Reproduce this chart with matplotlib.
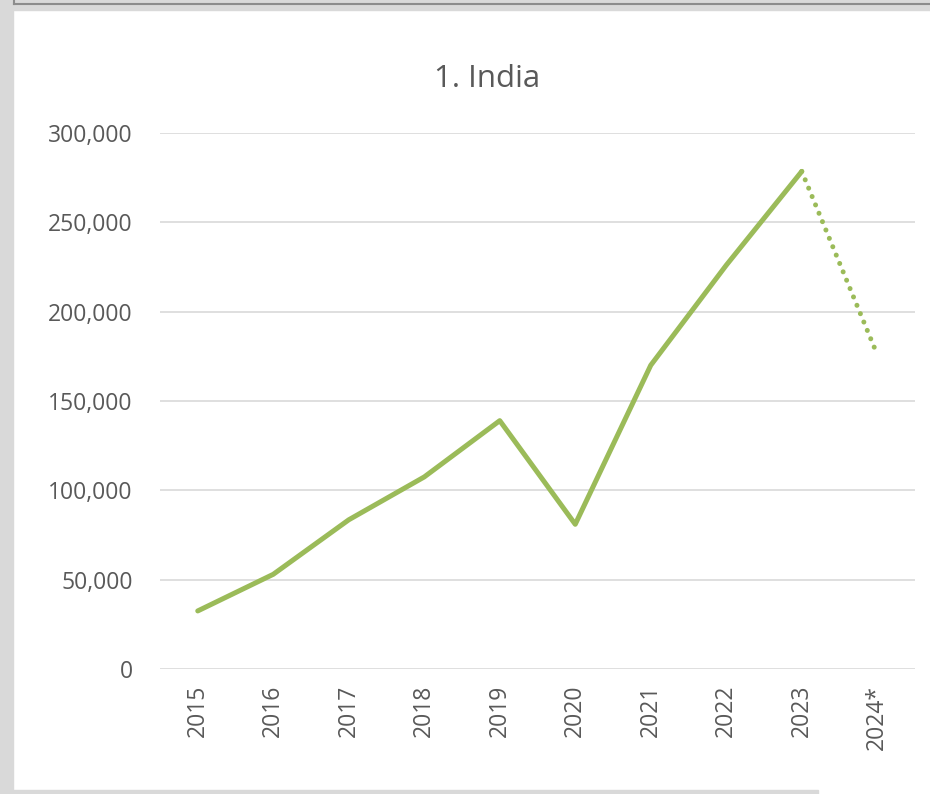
import matplotlib.pyplot as plt
from matplotlib.patches import Rectangle
from matplotlib.lines import Line2D
from matplotlib.ticker import FuncFormatter

years = ['2015', '2016', '2017', '2018', '2019', '2020', '2021', '2022', '2023', '2024*']
values = [32500, 53000, 83500, 107500, 139000, 81000, 170000, 226000, 278500, 176000]
yticks = [0, 50000, 100000, 150000, 200000, 250000, 300000]

green = '#9BBB59'
text_grey = '#595959'
grid_grey = '#d9d9d9'

plt.rcParams['font.family'] = ['Open Sans', 'DejaVu Sans']

W, H = 930, 794
fig = plt.figure(figsize=(W / 100, H / 100), dpi=100)

# grey frame strips around the chart area
fig.patches.append(Rectangle((0, 0), 13 / W, 1, transform=fig.transFigure, color='#d9d9d9', zorder=0))
fig.patches.append(Rectangle((0, 1 - 10 / H), 1, 10 / H, transform=fig.transFigure, color='#d9d9d9', zorder=0))
fig.patches.append(Rectangle((0, 0), 818 / W, 4 / H, transform=fig.transFigure, color='#d9d9d9', zorder=0))
fig.lines.append(Line2D([14 / W, 1], [1 - 4 / H, 1 - 4 / H], transform=fig.transFigure, color='#8c8c8c', lw=1.5))
fig.lines.append(Line2D([14 / W, 14 / W], [1 - 4 / H, 1], transform=fig.transFigure, color='#8c8c8c', lw=1.5))

ax = fig.add_axes([160 / W, 1 - 669 / H, 755 / W, 536 / H])
x = list(range(len(years)))
ax.plot(x[:-1], values[:-1], color=green, lw=3.6, solid_capstyle='round', solid_joinstyle='round', zorder=3)
# forecast year drawn as a round-dotted line
ax.plot(x[-2:], values[-2:], color=green, lw=3.6, linestyle=(0, (0.01, 1.8)), dash_capstyle='round', zorder=3)

ax.set_xlim(-0.5, len(years) - 0.5)
ax.set_ylim(0, 300000)
ax.set_yticks(yticks)
ax.yaxis.set_major_formatter(FuncFormatter(lambda v, p: f'{int(v):,}'))
ax.set_xticks(x)
ax.set_xticklabels(years, rotation=90)
ax.tick_params(axis='both', length=0, labelsize=16.5, colors=text_grey)
ax.tick_params(axis='y', pad=19.5)
ax.tick_params(axis='x', pad=11.5)
ax.grid(axis='y', color=grid_grey, lw=1.2)
ax.set_axisbelow(True)
for s in ax.spines.values():
    s.set_visible(False)

fig.text(487 / W, 1 - 79 / H, '1. India', ha='center', va='center', fontsize=22.5, color=text_grey)

fig.savefig('out.png', dpi=100)
